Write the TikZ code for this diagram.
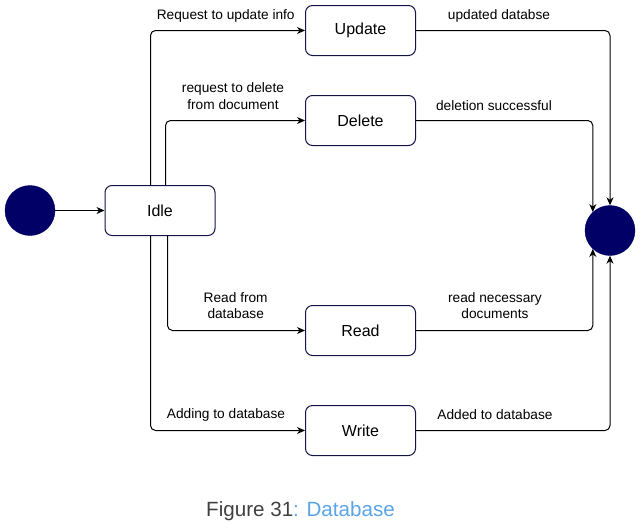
\documentclass[tikz,border=0pt]{standalone}
\usepackage{fontspec}
\setmainfont{Liberation Sans}
\usetikzlibrary{arrows.meta}
\definecolor{navy}{RGB}{0,0,102}
\definecolor{boxline}{RGB}{20,20,70}
\definecolor{capgray}{RGB}{64,64,64}
\definecolor{capblue}{RGB}{91,164,230}
\begin{document}
\begin{tikzpicture}[x=1pt,y=-1pt,
  statebox/.style={draw=boxline, line width=1pt, rounded corners=7pt, minimum width=110pt, minimum height=50pt, inner sep=0pt, font=\fontsize{16}{19}\selectfont},
  dot/.style={circle, fill=navy, draw=navy, minimum size=50pt, inner sep=0pt},
  conn/.style={line width=1pt, rounded corners=5pt, -{Stealth[length=8pt,width=7pt,inset=2.5pt]}},
  lbl/.style={inner sep=0pt, align=center, font=\fontsize{13.7}{16.5}\selectfont}]
\useasboundingbox (0,0) rectangle (641,531);
\node[dot] (start) at (30,210.5) {};
\node[statebox] (idle) at (160,210.5) {Idle};
\node[statebox] (update) at (360.5,30.5) {Update};
\node[statebox] (delete) at (360.5,120.5) {Delete};
\node[statebox] (read) at (360.5,330.5) {Read};
\node[statebox] (write) at (360.5,430.5) {Write};
\node[dot] (end) at (610,230.5) {};

\draw[conn] (start) -- (idle);
\draw[conn] ([xshift=46pt]idle.north west) |- (update.west);
\draw[conn] ([xshift=61pt]idle.north west) |- (delete.west);
\draw[conn] ([xshift=63pt]idle.south west) |- (read.west);
\draw[conn] ([xshift=46pt]idle.south west) |- (write.west);
\draw[conn] (update.east) -| (end.north);
\draw[conn] (delete.east) -| (end.133);
\draw[conn] (read.east) -| (end.227);
\draw[conn] (write.east) -| (end.south);

\node[lbl] (l1) at (225.7,16) {Request to update info};
\node[lbl] (l2) at (233,96) {request to delete\\from document};
\node[lbl] (l3) at (499,15.5) {updated databse};
\node[lbl] (l4) at (494,105.5) {deletion successful};
\node[lbl] (l5) at (235.7,305.5) {Read from\\database};
\node[lbl] (l6) at (495,305.5) {read necessary\\documents};
\node[lbl] (l7) at (226,414.5) {Adding to database};
\node[lbl] (l8) at (495,414.5) {Added to database};

\node[inner sep=0pt, font=\fontsize{20.6}{24}\selectfont] (cap) at (300.5,511) {\textcolor{capgray}{Figure 31}\textcolor{capblue}{: Database}};
\end{tikzpicture}
\end{document}
